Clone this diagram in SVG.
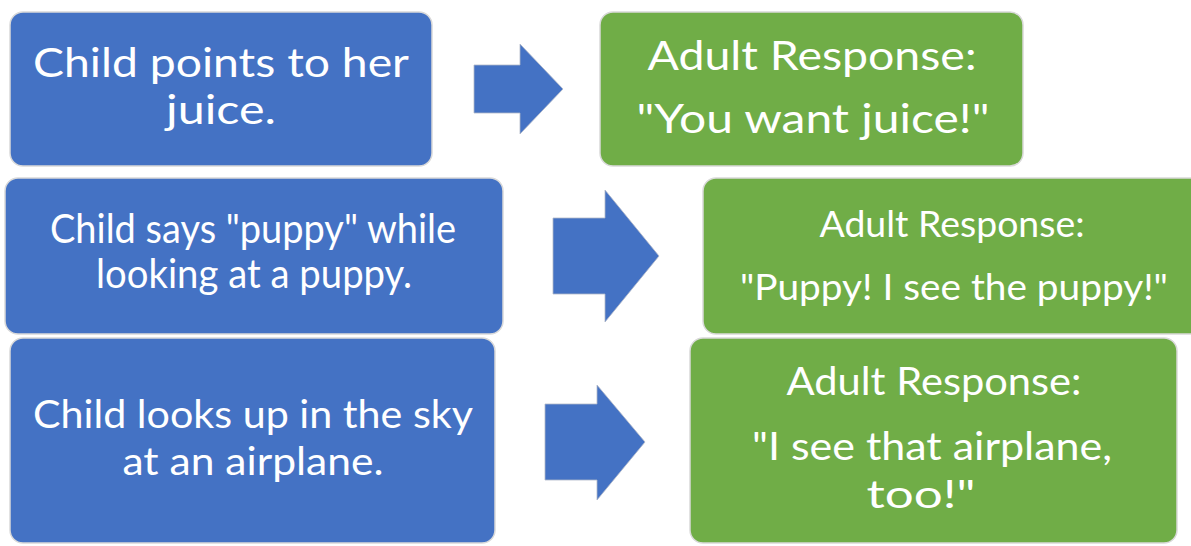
<svg xmlns="http://www.w3.org/2000/svg" width="1191" height="546" viewBox="0 0 1191 546">
<style>
.blue{fill:#4472C4;stroke:#d9d9d9;stroke-width:1.5}
.green{fill:#70AD47;stroke:#d9d9d9;stroke-width:1.5}
.arrow{fill:#4472C4;stroke:#b0b8c8;stroke-width:0.8}
text{font-family:Lato,"Open Sans","Liberation Sans",sans-serif;fill:#ffffff;text-anchor:middle}
.t40{font-size:40px}
.t36{font-size:37px}
.t39{font-size:40px}
.t38{font-size:38px}
</style>
<rect width="1191" height="546" fill="#ffffff"/>
<g id="child1">
<rect class="blue" x="10" y="12" width="422" height="154" rx="13"/>
<text class="t40" x="221" y="77" textLength="376" lengthAdjust="spacingAndGlyphs">Child points to her</text>
<text class="t40" x="221" y="124" textLength="110" lengthAdjust="spacingAndGlyphs">juice.</text>
</g>
<g id="adult1">
<rect class="green" x="600" y="12" width="423" height="154" rx="13"/>
<text class="t40" x="812" y="70" textLength="329" lengthAdjust="spacingAndGlyphs">Adult Response:</text>
<text class="t40" x="813" y="133" textLength="353" lengthAdjust="spacingAndGlyphs">"You want juice!"</text>
</g>
<g id="child2">
<rect class="blue" x="5" y="178" width="498" height="156" rx="13"/>
<text class="t39" x="253" y="243" textLength="406" lengthAdjust="spacingAndGlyphs">Child says "puppy" while</text>
<text class="t39" x="254" y="288" textLength="316" lengthAdjust="spacingAndGlyphs">looking at a puppy.</text>
</g>
<g id="adult2">
<rect class="green" x="703" y="178" width="500" height="156" rx="13"/>
<text class="t36" x="952" y="237" textLength="265" lengthAdjust="spacingAndGlyphs">Adult Response:</text>
<text class="t36" x="954" y="300" textLength="428" lengthAdjust="spacingAndGlyphs">"Puppy! I see the puppy!"</text>
</g>
<g id="child3">
<rect class="blue" x="10" y="338" width="485" height="205" rx="13"/>
<text class="t38" x="253" y="428" textLength="440" lengthAdjust="spacingAndGlyphs">Child looks up in the sky</text>
<text class="t38" x="253" y="475" textLength="261" lengthAdjust="spacingAndGlyphs">at an airplane.</text>
</g>
<g id="adult3">
<rect class="green" x="690" y="338" width="487" height="205" rx="13"/>
<text class="t38" x="934" y="395" textLength="295" lengthAdjust="spacingAndGlyphs">Adult Response:</text>
<text class="t38" x="932" y="460" textLength="360" lengthAdjust="spacingAndGlyphs">"I see that airplane,</text>
<text class="t38" x="921" y="508" textLength="109" lengthAdjust="spacingAndGlyphs">too!"</text>
</g>
<g id="connectors">
<polygon class="arrow" points="474,65 520,65 520,44 563,89 520,134 520,113 474,113"/>
<polygon class="arrow" points="553,218 605,218 605,190 659,256 605,322 605,294 553,294"/>
<polygon class="arrow" points="545,404 597,404 597,385 645,442 597,500 597,480 545,480"/>
</g>
</svg>
